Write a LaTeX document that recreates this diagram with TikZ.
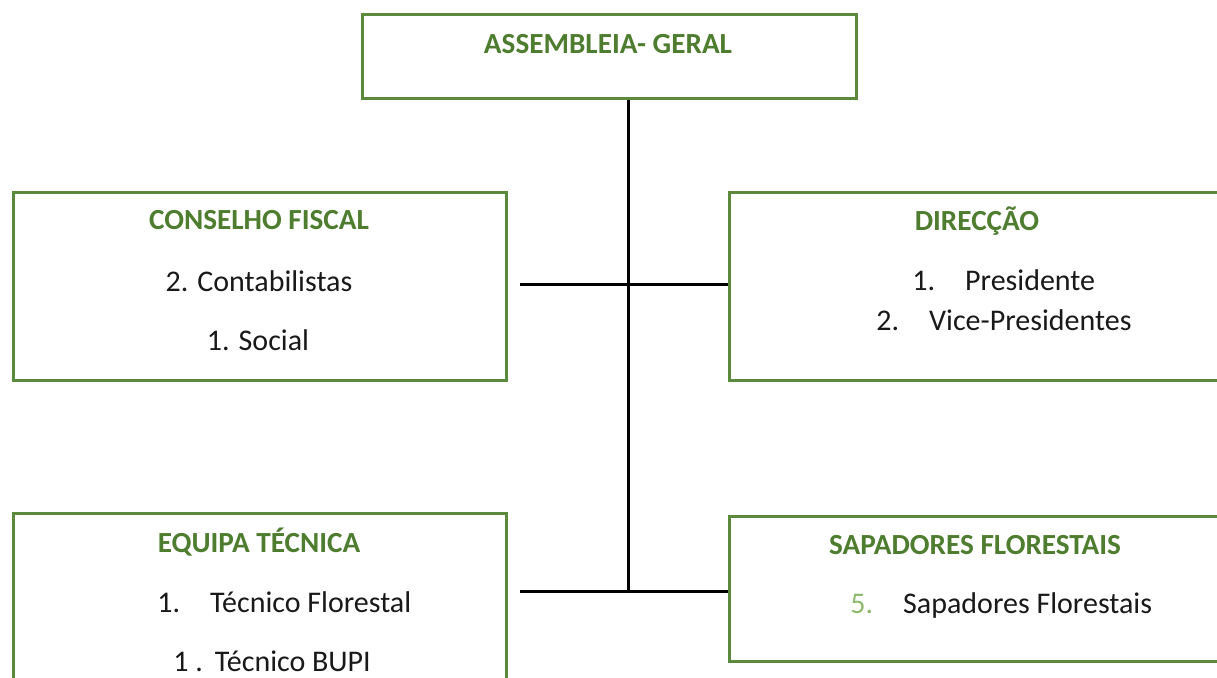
\documentclass[tikz,border=0pt]{standalone}
\usepackage{fontspec}
\setmainfont{Carlito}
\definecolor{boxgreen}{HTML}{5B8A3C}
\definecolor{headgreen}{HTML}{4E7D2F}
\definecolor{numgreen}{HTML}{8DBA6E}
\newcommand{\headtxt}[1]{\textcolor{headgreen}{\bfseries #1}}
\begin{document}
\begin{tikzpicture}[x=0.5pt, y=-0.5pt,
    orgbox/.style={draw=boxgreen, line width=1.5pt, fill=white, inner sep=0pt, anchor=north west},
    lbl/.style={inner sep=0pt, text=black!90, font=\fontsize{15}{17}\selectfont},
    hlbl/.style={inner sep=0pt, font=\fontsize{14.6}{16}\selectfont},
    link/.style={line width=1.5pt, black}]
    \useasboundingbox (0,0) rectangle (1217,677);
    \clip (0,0) rectangle (1217,677);

    % caixas
    \node[orgbox, minimum width=247pt, minimum height=42pt] (ag) at (361,13) {};
    \node[orgbox, minimum width=246.5pt, minimum height=94pt] (cf) at (12,191) {};
    \node[orgbox, minimum width=260pt, minimum height=94pt] (dir) at (728,191) {};
    \node[orgbox, minimum width=246.5pt, minimum height=100pt] (et) at (12,512) {};
    \node[orgbox, minimum width=260pt, minimum height=72.5pt] (sf) at (728,515) {};

    % textos
    \node[hlbl] (agT) at (608,44) {\headtxt{ASSEMBLEIA- GERAL}};
    \node[hlbl] (cfT) at (259,220) {\headtxt{CONSELHO FISCAL}};
    \node[lbl] (cf1) at (259,281) {2. Contabilistas};
    \node[lbl] (cf2) at (258,340) {1. Social};
    \node[hlbl] (dirT) at (977,221) {\headtxt{DIRECÇÃO}};
    \node[lbl, anchor=west] (dir1) at (912,280) {1.\hspace{15pt}Presidente};
    \node[lbl, anchor=west] (dir2) at (876,320) {2.\hspace{15pt}Vice-Presidentes};
    \node[hlbl] (etT) at (259,542) {\headtxt{EQUIPA TÉCNICA}};
    \node[lbl, anchor=west] (et1) at (157,602) {1.\hspace{15pt}Técnico Florestal};
    \node[lbl, anchor=west] (et2) at (173,661) {1 .\hspace{6pt}Técnico BUPI};
    \node[hlbl] (sfT) at (975,545) {\headtxt{SAPADORES FLORESTAIS}};
    \node[lbl, anchor=west] (sf1) at (850,605) {\textcolor{numgreen}{5.}\hspace{15pt}Sapadores Florestais};

    % ligações
    \coordinate (jMid) at (628,284);
    \coordinate (jBot) at (628,592);
    \coordinate (jTop) at (ag.south -| jMid);
    \coordinate (cfEnd) at (520,284);
    \coordinate (etEnd) at (520,591);
    \draw[link] (jTop) -- (jBot);
    \draw[link] (cfEnd) -- (dir.west |- jMid);
    \draw[link] (etEnd) -- (dir.west |- etEnd);
\end{tikzpicture}
\end{document}
